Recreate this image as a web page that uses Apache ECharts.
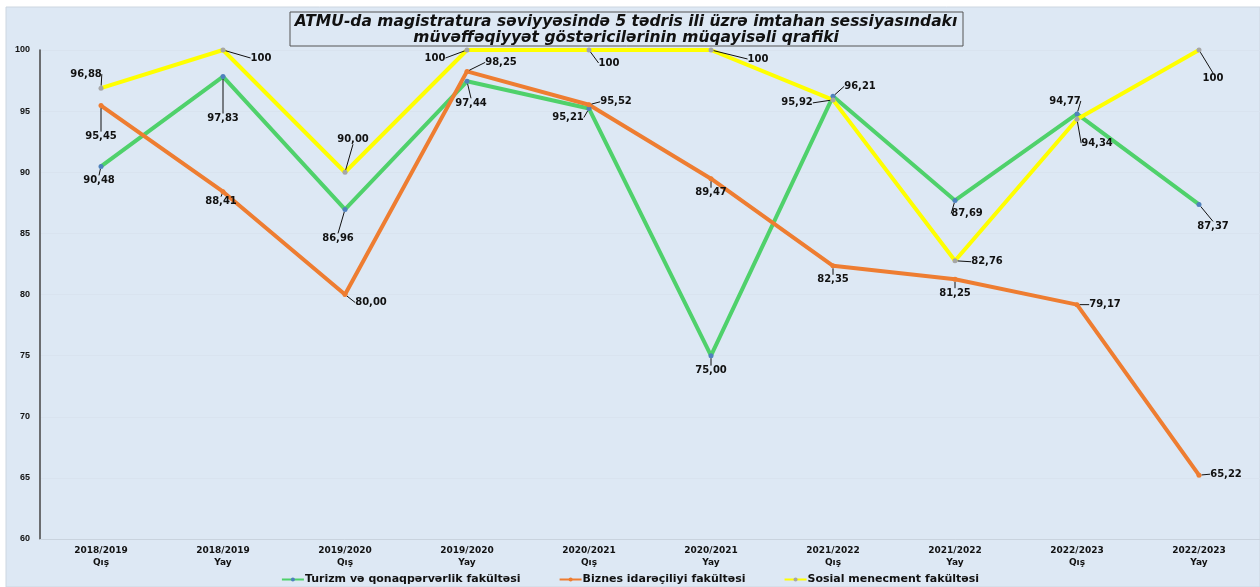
<!DOCTYPE html>
<html>
<head>
<meta charset="utf-8">
<script src="https://cdn.jsdelivr.net/npm/echarts@6/dist/echarts.min.js"></script>
<style>
  html, body { margin: 0; padding: 0; background: #fff; }
  #chart { width: 1260px; height: 587px; }
</style>
</head>
<body>
<div id="chart"></div>
<script>
const categories = [
  "2018/2019\nQış", "2018/2019\nYay", "2019/2020\nQış", "2019/2020\nYay", "2020/2021\nQış",
  "2020/2021\nYay", "2021/2022\nQış", "2021/2022\nYay", "2022/2023\nQış", "2022/2023\nYay"
];
const turizm = [90.48, 97.83, 86.96, 97.44, 95.21, 75.00, 96.21, 87.69, 94.77, 87.37];
const biznes = [95.45, 88.41, 80.00, 98.25, 95.52, 89.47, 82.35, 81.25, 79.17, 65.22];
const sosial = [96.88, 100, 90.00, 100, 100, 100, 95.92, 82.76, 94.34, 100];
const seriesNames = ["Turizm və qonaqpərvərlik fakültəsi", "Biznes idarəçiliyi fakültəsi", "Sosial menecment fakültəsi"];
const titleText = "ATMU-da magistratura səviyyəsində 5 tədris ili üzrə imtahan sessiyasındakı\nmüvəffəqiyyət göstəricilərinin müqayisəli qrafiki";

// where each value label sits relative to its point (dx, dy)
const labelOffsets = [
  [[-2, 14], [0, 42], [-7, 29], [4, 22], [-21, 9], [0, 15], [27, -10], [12, 13], [-12, -13], [14, 22]],
  [[0, 31], [-2, 10], [26, 8], [34, -9], [27, -3], [0, 14], [0, 14], [0, 14], [28, 0], [27, -1]],
  [[-15, -14], [38, 8], [8, -33], [-32, 8], [20, 13], [47, 9], [-36, 3], [32, 1], [20, 24], [14, 28]]
];

const fmt = v => (v === 100 ? "100" : v.toFixed(2).replace(".", ","));
const font = "DejaVu Sans, sans-serif";

const chart = echarts.init(document.getElementById("chart"));

function makeSeries(idx, data, color, dotColor) {
  return {
    name: seriesNames[idx],
    type: "line",
    data: data,
    symbol: "circle",
    symbolSize: 5,
    lineStyle: { color: color, width: 4 },
    itemStyle: { color: dotColor, borderWidth: 0 },
    label: {
      show: true,
      position: "inside",
      formatter: p => fmt(p.value),
      color: "#111",
      fontSize: 10,
      fontWeight: "bold",
      fontFamily: font
    },
    labelLine: { show: true, lineStyle: { color: "#111", width: 1 } },
    labelLayout: p => ({ dx: labelOffsets[idx][p.dataIndex][0], dy: labelOffsets[idx][p.dataIndex][1] }),
    emphasis: { disabled: true }
  };
}

chart.setOption({
  animation: false,
  color: ["#4fd16b", "#ee7d31", "#ffff00"],
  graphic: [
    {
      type: "rect",
      z: -100,
      shape: { x: 6, y: 7, width: 1254, height: 580 },
      style: { fill: "#dde8f4", stroke: "#cdd6e0", lineWidth: 1 }
    },
    {
      type: "rect",
      z: 10,
      shape: { x: 290, y: 12, width: 673, height: 34 },
      style: { fill: "#dde8f4", stroke: "#555", lineWidth: 1 }
    },
    {
      type: "text",
      z: 11,
      x: 626,
      y: 14,
      style: {
        text: titleText,
        align: "center",
        verticalAlign: "top",
        fill: "#111",
        font: "italic bold 15.5px " + font,
        lineHeight: 16
      }
    }
  ],
  legend: {
    top: 569,
    left: "center",
    itemGap: 38,
    itemWidth: 22,
    itemHeight: 5,
    textStyle: { fontSize: 11, fontWeight: "bold", color: "#111", fontFamily: font, padding: [0, 0, 0, -4] },
    data: seriesNames
  },
  grid: { left: 40, right: 0, top: 50, bottom: 48, containLabel: false },
  xAxis: {
    type: "category",
    data: categories,
    boundaryGap: true,
    axisLine: { lineStyle: { color: "#c9d3de", width: 1 } },
    axisTick: { show: false },
    axisLabel: {
      color: "#111",
      fontSize: 9,
      fontWeight: "bold",
      lineHeight: 12,
      margin: 6,
      fontFamily: font
    }
  },
  yAxis: {
    type: "value",
    min: 60,
    max: 100,
    interval: 5,
    axisLine: { show: true, lineStyle: { color: "#444", width: 1.5 } },
    axisTick: { show: false },
    splitLine: { lineStyle: { color: "#d9e3ef", width: 1 } },
    axisLabel: {
      color: "#111",
      fontSize: 9,
      fontWeight: "bold",
      margin: 10,
      fontFamily: "Liberation Sans, Arial, sans-serif"
    }
  },
  series: [
    makeSeries(0, turizm, "#4fd16b", "#4f81bd"),
    makeSeries(1, biznes, "#ee7d31", "#ee7d31"),
    makeSeries(2, sosial, "#ffff00", "#a6a6a6")
  ]
});
</script>
</body>
</html>
